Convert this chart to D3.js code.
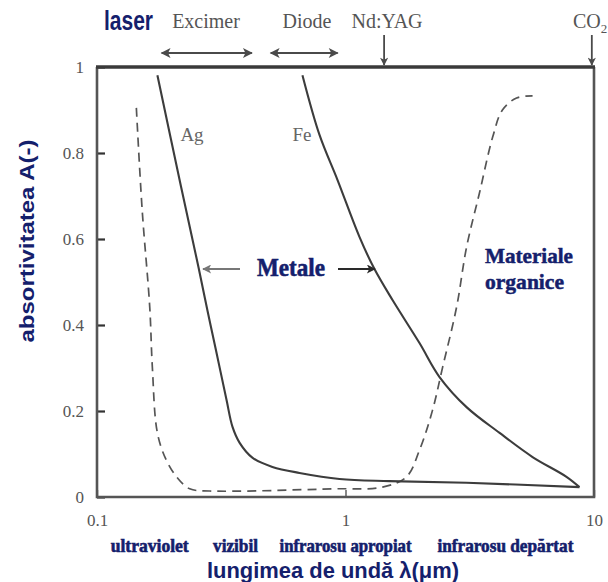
<!DOCTYPE html>
<html>
<head>
<meta charset="utf-8">
<script src="https://cdn.jsdelivr.net/npm/d3@7/dist/d3.min.js"></script>
<style>
  html, body { margin: 0; padding: 0; background: #fff; }
  svg { display: block; }
</style>
</head>
<body>
<svg id="chart" width="608" height="582"></svg>
<script>
// Absorptivity vs wavelength (log scale) for metals and organic materials

// Ag (silver)
const agWave = [0.175, 0.218, 0.256, 0.278, 0.301, 0.332, 0.351, 0.375, 0.423, 0.508, 0.653, 0.946, 1.50, 3.07, 8.74];
const agAbs  = [0.981, 0.721, 0.535, 0.435, 0.342, 0.226, 0.163, 0.126, 0.091, 0.070, 0.056, 0.042, 0.037, 0.033, 0.023];

// Fe (iron)
const feWave = [0.671, 0.786, 0.929, 1.138, 1.308, 1.546, 1.985, 2.39, 3.07, 4.17, 5.66, 7.75, 8.74];
const feAbs  = [0.981, 0.842, 0.737, 0.605, 0.530, 0.458, 0.358, 0.279, 0.209, 0.149, 0.093, 0.047, 0.023];

// organic materials
const orgWave = [0.144, 0.152, 0.163, 0.167, 0.175, 0.190, 0.211, 0.236, 0.284, 0.887, 1.41, 1.76, 1.985, 2.24, 2.46, 2.80, 3.07, 3.46, 3.91, 4.28, 4.88, 5.66];
const orgAbs  = [0.905, 0.667, 0.442, 0.302, 0.149, 0.086, 0.044, 0.019, 0.014, 0.019, 0.023, 0.047, 0.109, 0.202, 0.302, 0.442, 0.581, 0.707, 0.837, 0.900, 0.928, 0.933];

// laser sources: ranges (double arrows) and single lines
const laserRangeNames = ["Excimer", "Diode"];
const laserRangeFrom  = [0.182, 0.50];
const laserRangeTo    = [0.42, 0.93];
const laserLineNames  = ["Nd:YAG", "CO"];
const laserLineWave   = [1.43, 9.8];

// axis ticks
const xTicks = [0.1, 1, 10];
const xTickLabels = ["0.1", "1", "10"];
const yTicks = [0, 0.2, 0.4, 0.6, 0.8, 1];
const yTickLabels = ["0", "0.2", "0.4", "0.6", "0.8", "1"];

// spectral regions under the axis
const regionNames = ["ultraviolet", "vizibil", "infrarosu apropiat", "infrarosu depărtat"];
const regionCenters = [0.163, 0.361, 1.0, 4.4];

const svg = d3.select("#chart");
const navy = "#14206c";
const grey = "#555";
const serif = "'Liberation Serif', 'Times New Roman', serif";
const sans = "'Liberation Sans', Arial, sans-serif";

const x = d3.scaleLog().domain([0.1, 10]).range([97, 594]);
const y = d3.scaleLinear().domain([0, 1]).range([497, 67]);

// arrow markers
const defs = svg.append("defs");
function marker(id, color) {
  defs.append("marker")
    .attr("id", id)
    .attr("viewBox", "0 0 10 10")
    .attr("refX", 9).attr("refY", 5)
    .attr("markerWidth", 5).attr("markerHeight", 4.5)
    .attr("markerUnits", "strokeWidth")
    .attr("orient", "auto-start-reverse")
    .append("path")
    .attr("d", "M0,0 L10,5 L0,10 L2.5,5 Z")
    .attr("fill", color);
}
marker("arrGrey", "#4a4a4a");
marker("arrLight", "#777");
marker("arrDark", "#2a2a2a");

// axes (inward ticks)
const yAxis = d3.axisLeft(y)
  .tickValues(yTicks)
  .tickFormat((d, i) => yTickLabels[i])
  .tickSize(-8).tickPadding(13);
const gy = svg.append("g").attr("transform", `translate(${x.range()[0]},0)`).call(yAxis);
gy.select(".domain").remove();
gy.selectAll(".tick line").attr("stroke", "#333").attr("stroke-width", 2.2);
gy.selectAll(".tick text").attr("font-family", serif).attr("font-size", 17).attr("fill", grey);

const xAxis = d3.axisBottom(x)
  .tickValues(xTicks)
  .tickFormat((d, i) => xTickLabels[i])
  .tickSize(-7).tickPadding(17);
const gx = svg.append("g").attr("transform", `translate(0,${y.range()[0]})`).call(xAxis);
gx.select(".domain").remove();
gx.selectAll(".tick line").attr("stroke", "#555").attr("stroke-width", 1.4);
gx.selectAll(".tick text").attr("font-family", serif).attr("font-size", 17).attr("fill", grey);

// plot frame
const [x0, x1] = x.range();
const [yb, yt] = y.range();
svg.append("path")
  .attr("d", `M${x0},${yt} L${x0},${yb} L${x1},${yb} L${x1},${yt}`)
  .attr("fill", "none").attr("stroke", "#555").attr("stroke-width", 2.6);
svg.append("line")
  .attr("x1", x0 - 1).attr("x2", x1 + 1).attr("y1", yt).attr("y2", yt)
  .attr("stroke", "#3a3a3a").attr("stroke-width", 3.4);

// curves
const line = (wave, abs) => d3.line()
  .x((d, i) => x(wave[i]))
  .y((d, i) => y(abs[i]))
  .curve(d3.curveCatmullRom.alpha(0.5))(wave);

svg.append("path").attr("d", line(orgWave, orgAbs))
  .attr("fill", "none").attr("stroke", "#555").attr("stroke-width", 1.7)
  .attr("stroke-dasharray", "9,6");
svg.append("path").attr("d", line(agWave, agAbs))
  .attr("fill", "none").attr("stroke", "#3c3c3c").attr("stroke-width", 2.1);
svg.append("path").attr("d", line(feWave, feAbs))
  .attr("fill", "none").attr("stroke", "#3c3c3c").attr("stroke-width", 2.1);

// curve labels
svg.append("text").attr("x", 192).attr("y", 141).attr("text-anchor", "middle")
  .attr("font-family", serif).attr("font-size", 19).attr("fill", "#666").text("Ag");
svg.append("text").attr("x", 302).attr("y", 141).attr("text-anchor", "middle")
  .attr("font-family", serif).attr("font-size", 19).attr("fill", "#666").text("Fe");

// "Metale" annotation with arrows to both metal curves
svg.append("text").attr("x", 257).attr("y", 276)
  .attr("font-family", serif).attr("font-weight", "bold").attr("font-size", 26)
  .attr("textLength", 68).attr("lengthAdjust", "spacingAndGlyphs")
  .attr("fill", navy).attr("stroke", navy).attr("stroke-width", 0.6).text("Metale");
svg.append("line").attr("x1", 240).attr("x2", 203).attr("y1", 269).attr("y2", 269)
  .attr("stroke", "#777").attr("stroke-width", 2).attr("marker-end", "url(#arrLight)");
svg.append("line").attr("x1", 338).attr("x2", 375).attr("y1", 269).attr("y2", 269)
  .attr("stroke", "#2a2a2a").attr("stroke-width", 2).attr("marker-end", "url(#arrDark)");

// organic materials label
svg.append("text").attr("x", 485).attr("y", 263)
  .attr("font-family", serif).attr("font-weight", "bold").attr("font-size", 22)
  .attr("textLength", 88).attr("lengthAdjust", "spacingAndGlyphs")
  .attr("fill", navy).attr("stroke", navy).attr("stroke-width", 0.5).text("Materiale");
svg.append("text").attr("x", 485).attr("y", 289)
  .attr("font-family", serif).attr("font-weight", "bold").attr("font-size", 22)
  .attr("textLength", 79).attr("lengthAdjust", "spacingAndGlyphs")
  .attr("fill", navy).attr("stroke", navy).attr("stroke-width", 0.5).text("organice");

// laser row above the plot
svg.append("text").attr("x", 104).attr("y", 30)
  .attr("font-family", sans).attr("font-weight", "bold").attr("font-size", 27)
  .attr("textLength", 49).attr("lengthAdjust", "spacingAndGlyphs")
  .attr("fill", navy).text("laser");

laserRangeNames.forEach((name, i) => {
  const a = x(laserRangeFrom[i]), b = x(laserRangeTo[i]);
  svg.append("line").attr("x1", a).attr("x2", b).attr("y1", 53).attr("y2", 53)
    .attr("stroke", "#4a4a4a").attr("stroke-width", 2.2)
    .attr("marker-start", "url(#arrGrey)").attr("marker-end", "url(#arrGrey)");
});
svg.append("text").attr("x", 206).attr("y", 28).attr("text-anchor", "middle")
  .attr("font-family", serif).attr("font-size", 20).attr("fill", grey).text(laserRangeNames[0]);
svg.append("text").attr("x", 307).attr("y", 28).attr("text-anchor", "middle")
  .attr("font-family", serif).attr("font-size", 20).attr("fill", grey).text(laserRangeNames[1]);

laserLineWave.forEach((w, i) => {
  svg.append("line").attr("x1", x(w)).attr("x2", x(w)).attr("y1", 35).attr("y2", 65)
    .attr("stroke", "#4a4a4a").attr("stroke-width", 1.8).attr("marker-end", "url(#arrGrey)");
});
svg.append("text").attr("x", 387).attr("y", 28).attr("text-anchor", "middle")
  .attr("font-family", serif).attr("font-size", 20).attr("fill", grey).text(laserLineNames[0]);
const co2 = svg.append("text").attr("x", 573).attr("y", 28)
  .attr("font-family", serif).attr("font-size", 20).attr("fill", grey);
co2.append("tspan").text(laserLineNames[1]);
co2.append("tspan").attr("dy", 5).attr("font-size", 13).text("2");

// spectral region labels
const regionWidths = [78, 45, 132, 136];
regionNames.forEach((name, i) => {
  svg.append("text").attr("x", x(regionCenters[i])).attr("y", 552).attr("text-anchor", "middle")
    .attr("font-family", serif).attr("font-weight", "bold").attr("font-size", 18)
    .attr("textLength", regionWidths[i]).attr("lengthAdjust", "spacingAndGlyphs")
    .attr("fill", navy).attr("stroke", navy).attr("stroke-width", 0.6).text(name);
});

// axis titles
svg.append("text").attr("x", 333).attr("y", 578).attr("text-anchor", "middle")
  .attr("font-family", sans).attr("font-weight", "bold").attr("font-size", 22)
  .attr("textLength", 252).attr("lengthAdjust", "spacingAndGlyphs")
  .attr("fill", navy).text("lungimea de undă  λ(μm)");
svg.append("text").attr("transform", "translate(34,241) rotate(-90)").attr("text-anchor", "middle")
  .attr("font-family", sans).attr("font-weight", "bold").attr("font-size", 21)
  .attr("textLength", 203).attr("lengthAdjust", "spacingAndGlyphs")
  .attr("fill", navy).text("absortivitatea A(-)");
</script>
</body>
</html>
